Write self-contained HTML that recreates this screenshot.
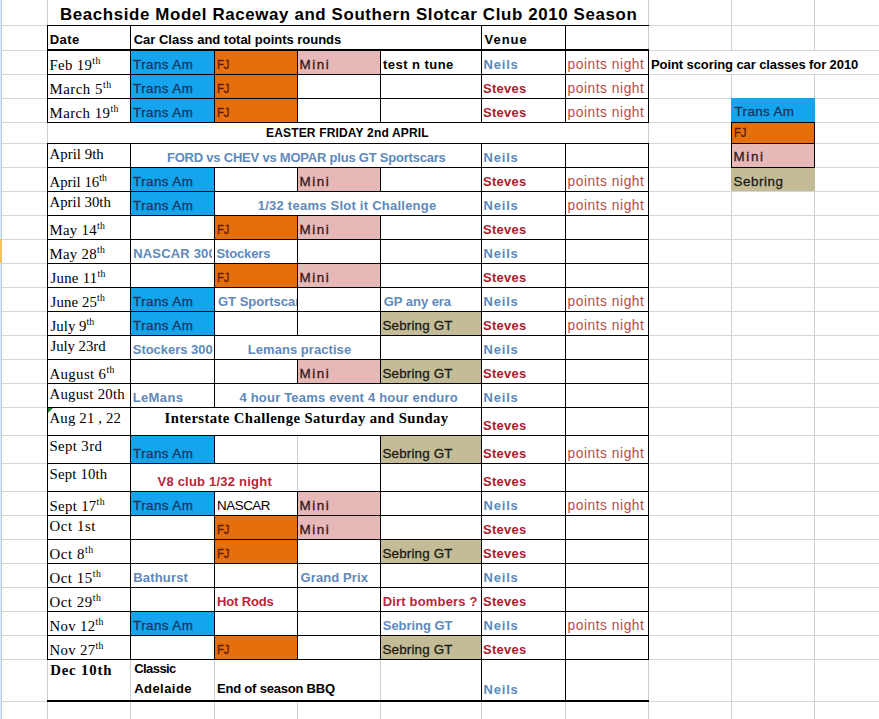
<!DOCTYPE html>
<html><head><meta charset="utf-8"><title>Beachside Model Raceway 2010 Season</title>
<style>
html,body{margin:0;padding:0;background:#fff;}
body{width:879px;height:719px;position:relative;overflow:hidden;font-family:"Liberation Sans",sans-serif;}
.b{position:absolute;}
.t{position:absolute;white-space:nowrap;}
.s{font-size:9.8px;position:relative;top:-5.6px;}
</style></head><body>
<div class="b" style="left:2px;top:25px;width:877px;height:1px;background:#d6d6d9;"></div>
<div class="b" style="left:2px;top:50px;width:877px;height:1px;background:#d6d6d9;"></div>
<div class="b" style="left:2px;top:74px;width:877px;height:1px;background:#d6d6d9;"></div>
<div class="b" style="left:2px;top:98px;width:877px;height:1px;background:#d6d6d9;"></div>
<div class="b" style="left:2px;top:122px;width:877px;height:1px;background:#d6d6d9;"></div>
<div class="b" style="left:2px;top:143px;width:877px;height:1px;background:#d6d6d9;"></div>
<div class="b" style="left:2px;top:167px;width:877px;height:1px;background:#d6d6d9;"></div>
<div class="b" style="left:2px;top:191px;width:877px;height:1px;background:#d6d6d9;"></div>
<div class="b" style="left:2px;top:215px;width:877px;height:1px;background:#d6d6d9;"></div>
<div class="b" style="left:2px;top:239px;width:877px;height:1px;background:#d6d6d9;"></div>
<div class="b" style="left:2px;top:263px;width:877px;height:1px;background:#d6d6d9;"></div>
<div class="b" style="left:2px;top:287px;width:877px;height:1px;background:#d6d6d9;"></div>
<div class="b" style="left:2px;top:311px;width:877px;height:1px;background:#d6d6d9;"></div>
<div class="b" style="left:2px;top:335px;width:877px;height:1px;background:#d6d6d9;"></div>
<div class="b" style="left:2px;top:359px;width:877px;height:1px;background:#d6d6d9;"></div>
<div class="b" style="left:2px;top:383px;width:877px;height:1px;background:#d6d6d9;"></div>
<div class="b" style="left:2px;top:407px;width:877px;height:1px;background:#d6d6d9;"></div>
<div class="b" style="left:2px;top:435px;width:877px;height:1px;background:#d6d6d9;"></div>
<div class="b" style="left:2px;top:463px;width:877px;height:1px;background:#d6d6d9;"></div>
<div class="b" style="left:2px;top:491px;width:877px;height:1px;background:#d6d6d9;"></div>
<div class="b" style="left:2px;top:515px;width:877px;height:1px;background:#d6d6d9;"></div>
<div class="b" style="left:2px;top:539px;width:877px;height:1px;background:#d6d6d9;"></div>
<div class="b" style="left:2px;top:563px;width:877px;height:1px;background:#d6d6d9;"></div>
<div class="b" style="left:2px;top:587px;width:877px;height:1px;background:#d6d6d9;"></div>
<div class="b" style="left:2px;top:611px;width:877px;height:1px;background:#d6d6d9;"></div>
<div class="b" style="left:2px;top:635px;width:877px;height:1px;background:#d6d6d9;"></div>
<div class="b" style="left:2px;top:659px;width:877px;height:1px;background:#d6d6d9;"></div>
<div class="b" style="left:2px;top:701px;width:877px;height:1px;background:#d6d6d9;"></div>
<div class="b" style="left:47px;top:0px;width:1px;height:719px;background:#cfcfd3;"></div>
<div class="b" style="left:130px;top:0px;width:1px;height:719px;background:#cfcfd3;"></div>
<div class="b" style="left:214px;top:0px;width:1px;height:719px;background:#cfcfd3;"></div>
<div class="b" style="left:297px;top:0px;width:1px;height:719px;background:#cfcfd3;"></div>
<div class="b" style="left:380px;top:0px;width:1px;height:719px;background:#cfcfd3;"></div>
<div class="b" style="left:481px;top:0px;width:1px;height:719px;background:#cfcfd3;"></div>
<div class="b" style="left:565px;top:0px;width:1px;height:719px;background:#cfcfd3;"></div>
<div class="b" style="left:648px;top:0px;width:1px;height:719px;background:#cfcfd3;"></div>
<div class="b" style="left:731px;top:0px;width:1px;height:719px;background:#cfcfd3;"></div>
<div class="b" style="left:814px;top:0px;width:1px;height:719px;background:#cfcfd3;"></div>
<div class="b" style="left:0px;top:0px;width:1px;height:719px;background:#dfeaf5;"></div>
<div class="b" style="left:1px;top:0px;width:1px;height:719px;background:#b4cde6;"></div>
<div class="b" style="left:0px;top:239px;width:2px;height:24px;background:#f2c25f;"></div>
<div class="b" style="left:48px;top:0px;width:600px;height:25px;background:#fff;"></div>
<div class="b" style="left:131px;top:26px;width:350px;height:23px;background:#fff;"></div>
<div class="b" style="left:649px;top:51px;width:230px;height:23px;background:#fff;"></div>
<div class="b" style="left:131px;top:144px;width:350px;height:23px;background:#fff;"></div>
<div class="b" style="left:215px;top:192px;width:266px;height:23px;background:#fff;"></div>
<div class="b" style="left:215px;top:336px;width:165px;height:23px;background:#fff;"></div>
<div class="b" style="left:215px;top:384px;width:266px;height:23px;background:#fff;"></div>
<div class="b" style="left:131px;top:408px;width:350px;height:27px;background:#fff;"></div>
<div class="b" style="left:131px;top:464px;width:166px;height:27px;background:#fff;"></div>
<div class="b" style="left:48px;top:123px;width:600px;height:20px;background:#fff;"></div>
<div class="b" style="left:297px;top:660px;width:1px;height:40px;background:#fff;"></div>
<div class="b" style="left:131px;top:51px;width:83px;height:23px;background:#15a5ee;"></div>
<div class="b" style="left:215px;top:51px;width:82px;height:23px;background:#e66f0d;"></div>
<div class="b" style="left:298px;top:51px;width:82px;height:23px;background:#e6b8b7;"></div>
<div class="b" style="left:131px;top:75px;width:83px;height:23px;background:#15a5ee;"></div>
<div class="b" style="left:215px;top:75px;width:82px;height:23px;background:#e66f0d;"></div>
<div class="b" style="left:131px;top:99px;width:83px;height:23px;background:#15a5ee;"></div>
<div class="b" style="left:215px;top:99px;width:82px;height:23px;background:#e66f0d;"></div>
<div class="b" style="left:131px;top:168px;width:83px;height:23px;background:#15a5ee;"></div>
<div class="b" style="left:298px;top:168px;width:82px;height:23px;background:#e6b8b7;"></div>
<div class="b" style="left:131px;top:192px;width:83px;height:23px;background:#15a5ee;"></div>
<div class="b" style="left:215px;top:216px;width:82px;height:23px;background:#e66f0d;"></div>
<div class="b" style="left:298px;top:216px;width:82px;height:23px;background:#e6b8b7;"></div>
<div class="b" style="left:215px;top:264px;width:82px;height:23px;background:#e66f0d;"></div>
<div class="b" style="left:298px;top:264px;width:82px;height:23px;background:#e6b8b7;"></div>
<div class="b" style="left:131px;top:288px;width:83px;height:23px;background:#15a5ee;"></div>
<div class="b" style="left:131px;top:312px;width:83px;height:23px;background:#15a5ee;"></div>
<div class="b" style="left:381px;top:312px;width:100px;height:23px;background:#c4bc96;"></div>
<div class="b" style="left:298px;top:360px;width:82px;height:23px;background:#e6b8b7;"></div>
<div class="b" style="left:381px;top:360px;width:100px;height:23px;background:#c4bc96;"></div>
<div class="b" style="left:131px;top:436px;width:83px;height:27px;background:#15a5ee;"></div>
<div class="b" style="left:381px;top:436px;width:100px;height:27px;background:#c4bc96;"></div>
<div class="b" style="left:131px;top:492px;width:83px;height:23px;background:#15a5ee;"></div>
<div class="b" style="left:298px;top:492px;width:82px;height:23px;background:#e6b8b7;"></div>
<div class="b" style="left:215px;top:516px;width:82px;height:23px;background:#e66f0d;"></div>
<div class="b" style="left:298px;top:516px;width:82px;height:23px;background:#e6b8b7;"></div>
<div class="b" style="left:215px;top:540px;width:82px;height:23px;background:#e66f0d;"></div>
<div class="b" style="left:381px;top:540px;width:100px;height:23px;background:#c4bc96;"></div>
<div class="b" style="left:131px;top:612px;width:83px;height:23px;background:#15a5ee;"></div>
<div class="b" style="left:215px;top:636px;width:82px;height:23px;background:#e66f0d;"></div>
<div class="b" style="left:381px;top:636px;width:100px;height:23px;background:#c4bc96;"></div>
<div class="b" style="left:731px;top:98px;width:84px;height:24px;background:#15a5ee;"></div>
<div class="b" style="left:732px;top:123px;width:82px;height:20px;background:#e66f0d;"></div>
<div class="b" style="left:732px;top:144px;width:82px;height:23px;background:#e6b8b7;"></div>
<div class="b" style="left:731px;top:168px;width:84px;height:23px;background:#c4bc96;"></div>
<div class="b" style="left:47px;top:25px;width:602px;height:1px;background:#000;"></div>
<div class="b" style="left:47px;top:25px;width:1px;height:25px;background:#000;"></div>
<div class="b" style="left:130px;top:25px;width:1px;height:25px;background:#000;"></div>
<div class="b" style="left:481px;top:25px;width:1px;height:25px;background:#000;"></div>
<div class="b" style="left:565px;top:25px;width:1px;height:25px;background:#000;"></div>
<div class="b" style="left:47px;top:49px;width:602px;height:2px;background:#000;"></div>
<div class="b" style="left:47px;top:74px;width:602px;height:1px;background:#000;"></div>
<div class="b" style="left:47px;top:98px;width:602px;height:1px;background:#000;"></div>
<div class="b" style="left:47px;top:122px;width:602px;height:1px;background:#000;"></div>
<div class="b" style="left:47px;top:143px;width:602px;height:1px;background:#000;"></div>
<div class="b" style="left:47px;top:167px;width:602px;height:1px;background:#000;"></div>
<div class="b" style="left:47px;top:191px;width:602px;height:1px;background:#000;"></div>
<div class="b" style="left:47px;top:215px;width:602px;height:1px;background:#000;"></div>
<div class="b" style="left:47px;top:239px;width:602px;height:1px;background:#000;"></div>
<div class="b" style="left:47px;top:263px;width:602px;height:1px;background:#000;"></div>
<div class="b" style="left:47px;top:287px;width:602px;height:1px;background:#000;"></div>
<div class="b" style="left:47px;top:311px;width:602px;height:1px;background:#000;"></div>
<div class="b" style="left:47px;top:335px;width:602px;height:1px;background:#000;"></div>
<div class="b" style="left:47px;top:359px;width:602px;height:1px;background:#000;"></div>
<div class="b" style="left:47px;top:383px;width:602px;height:1px;background:#000;"></div>
<div class="b" style="left:47px;top:407px;width:602px;height:1px;background:#000;"></div>
<div class="b" style="left:47px;top:435px;width:602px;height:1px;background:#000;"></div>
<div class="b" style="left:47px;top:463px;width:602px;height:1px;background:#000;"></div>
<div class="b" style="left:47px;top:491px;width:602px;height:1px;background:#000;"></div>
<div class="b" style="left:47px;top:515px;width:602px;height:1px;background:#000;"></div>
<div class="b" style="left:47px;top:539px;width:602px;height:1px;background:#000;"></div>
<div class="b" style="left:47px;top:563px;width:602px;height:1px;background:#000;"></div>
<div class="b" style="left:47px;top:587px;width:602px;height:1px;background:#000;"></div>
<div class="b" style="left:47px;top:611px;width:602px;height:1px;background:#000;"></div>
<div class="b" style="left:47px;top:635px;width:602px;height:1px;background:#000;"></div>
<div class="b" style="left:47px;top:659px;width:602px;height:1px;background:#000;"></div>
<div class="b" style="left:47px;top:50px;width:1px;height:25px;background:#000;"></div>
<div class="b" style="left:130px;top:50px;width:1px;height:25px;background:#000;"></div>
<div class="b" style="left:214px;top:50px;width:1px;height:25px;background:#000;"></div>
<div class="b" style="left:297px;top:50px;width:1px;height:25px;background:#000;"></div>
<div class="b" style="left:380px;top:50px;width:1px;height:25px;background:#000;"></div>
<div class="b" style="left:481px;top:50px;width:1px;height:25px;background:#000;"></div>
<div class="b" style="left:565px;top:50px;width:1px;height:25px;background:#000;"></div>
<div class="b" style="left:648px;top:50px;width:1px;height:25px;background:#000;"></div>
<div class="b" style="left:47px;top:74px;width:1px;height:25px;background:#000;"></div>
<div class="b" style="left:130px;top:74px;width:1px;height:25px;background:#000;"></div>
<div class="b" style="left:214px;top:74px;width:1px;height:25px;background:#000;"></div>
<div class="b" style="left:297px;top:74px;width:1px;height:25px;background:#000;"></div>
<div class="b" style="left:380px;top:74px;width:1px;height:25px;background:#000;"></div>
<div class="b" style="left:481px;top:74px;width:1px;height:25px;background:#000;"></div>
<div class="b" style="left:565px;top:74px;width:1px;height:25px;background:#000;"></div>
<div class="b" style="left:648px;top:74px;width:1px;height:25px;background:#000;"></div>
<div class="b" style="left:47px;top:98px;width:1px;height:25px;background:#000;"></div>
<div class="b" style="left:130px;top:98px;width:1px;height:25px;background:#000;"></div>
<div class="b" style="left:214px;top:98px;width:1px;height:25px;background:#000;"></div>
<div class="b" style="left:297px;top:98px;width:1px;height:25px;background:#000;"></div>
<div class="b" style="left:380px;top:98px;width:1px;height:25px;background:#000;"></div>
<div class="b" style="left:481px;top:98px;width:1px;height:25px;background:#000;"></div>
<div class="b" style="left:565px;top:98px;width:1px;height:25px;background:#000;"></div>
<div class="b" style="left:648px;top:98px;width:1px;height:25px;background:#000;"></div>
<div class="b" style="left:47px;top:143px;width:1px;height:25px;background:#000;"></div>
<div class="b" style="left:130px;top:143px;width:1px;height:25px;background:#000;"></div>
<div class="b" style="left:481px;top:143px;width:1px;height:25px;background:#000;"></div>
<div class="b" style="left:565px;top:143px;width:1px;height:25px;background:#000;"></div>
<div class="b" style="left:648px;top:143px;width:1px;height:25px;background:#000;"></div>
<div class="b" style="left:47px;top:167px;width:1px;height:25px;background:#000;"></div>
<div class="b" style="left:130px;top:167px;width:1px;height:25px;background:#000;"></div>
<div class="b" style="left:214px;top:167px;width:1px;height:25px;background:#000;"></div>
<div class="b" style="left:297px;top:167px;width:1px;height:25px;background:#000;"></div>
<div class="b" style="left:380px;top:167px;width:1px;height:25px;background:#000;"></div>
<div class="b" style="left:481px;top:167px;width:1px;height:25px;background:#000;"></div>
<div class="b" style="left:565px;top:167px;width:1px;height:25px;background:#000;"></div>
<div class="b" style="left:648px;top:167px;width:1px;height:25px;background:#000;"></div>
<div class="b" style="left:47px;top:191px;width:1px;height:25px;background:#000;"></div>
<div class="b" style="left:130px;top:191px;width:1px;height:25px;background:#000;"></div>
<div class="b" style="left:214px;top:191px;width:1px;height:25px;background:#000;"></div>
<div class="b" style="left:481px;top:191px;width:1px;height:25px;background:#000;"></div>
<div class="b" style="left:565px;top:191px;width:1px;height:25px;background:#000;"></div>
<div class="b" style="left:648px;top:191px;width:1px;height:25px;background:#000;"></div>
<div class="b" style="left:47px;top:215px;width:1px;height:25px;background:#000;"></div>
<div class="b" style="left:130px;top:215px;width:1px;height:25px;background:#000;"></div>
<div class="b" style="left:214px;top:215px;width:1px;height:25px;background:#000;"></div>
<div class="b" style="left:297px;top:215px;width:1px;height:25px;background:#000;"></div>
<div class="b" style="left:380px;top:215px;width:1px;height:25px;background:#000;"></div>
<div class="b" style="left:481px;top:215px;width:1px;height:25px;background:#000;"></div>
<div class="b" style="left:565px;top:215px;width:1px;height:25px;background:#000;"></div>
<div class="b" style="left:648px;top:215px;width:1px;height:25px;background:#000;"></div>
<div class="b" style="left:47px;top:239px;width:1px;height:25px;background:#000;"></div>
<div class="b" style="left:130px;top:239px;width:1px;height:25px;background:#000;"></div>
<div class="b" style="left:214px;top:239px;width:1px;height:25px;background:#000;"></div>
<div class="b" style="left:297px;top:239px;width:1px;height:25px;background:#000;"></div>
<div class="b" style="left:380px;top:239px;width:1px;height:25px;background:#000;"></div>
<div class="b" style="left:481px;top:239px;width:1px;height:25px;background:#000;"></div>
<div class="b" style="left:565px;top:239px;width:1px;height:25px;background:#000;"></div>
<div class="b" style="left:648px;top:239px;width:1px;height:25px;background:#000;"></div>
<div class="b" style="left:47px;top:263px;width:1px;height:25px;background:#000;"></div>
<div class="b" style="left:130px;top:263px;width:1px;height:25px;background:#000;"></div>
<div class="b" style="left:214px;top:263px;width:1px;height:25px;background:#000;"></div>
<div class="b" style="left:297px;top:263px;width:1px;height:25px;background:#000;"></div>
<div class="b" style="left:380px;top:263px;width:1px;height:25px;background:#000;"></div>
<div class="b" style="left:481px;top:263px;width:1px;height:25px;background:#000;"></div>
<div class="b" style="left:565px;top:263px;width:1px;height:25px;background:#000;"></div>
<div class="b" style="left:648px;top:263px;width:1px;height:25px;background:#000;"></div>
<div class="b" style="left:47px;top:287px;width:1px;height:25px;background:#000;"></div>
<div class="b" style="left:130px;top:287px;width:1px;height:25px;background:#000;"></div>
<div class="b" style="left:214px;top:287px;width:1px;height:25px;background:#000;"></div>
<div class="b" style="left:297px;top:287px;width:1px;height:25px;background:#000;"></div>
<div class="b" style="left:380px;top:287px;width:1px;height:25px;background:#000;"></div>
<div class="b" style="left:481px;top:287px;width:1px;height:25px;background:#000;"></div>
<div class="b" style="left:565px;top:287px;width:1px;height:25px;background:#000;"></div>
<div class="b" style="left:648px;top:287px;width:1px;height:25px;background:#000;"></div>
<div class="b" style="left:47px;top:311px;width:1px;height:25px;background:#000;"></div>
<div class="b" style="left:130px;top:311px;width:1px;height:25px;background:#000;"></div>
<div class="b" style="left:214px;top:311px;width:1px;height:25px;background:#000;"></div>
<div class="b" style="left:297px;top:311px;width:1px;height:25px;background:#000;"></div>
<div class="b" style="left:380px;top:311px;width:1px;height:25px;background:#000;"></div>
<div class="b" style="left:481px;top:311px;width:1px;height:25px;background:#000;"></div>
<div class="b" style="left:565px;top:311px;width:1px;height:25px;background:#000;"></div>
<div class="b" style="left:648px;top:311px;width:1px;height:25px;background:#000;"></div>
<div class="b" style="left:47px;top:335px;width:1px;height:25px;background:#000;"></div>
<div class="b" style="left:130px;top:335px;width:1px;height:25px;background:#000;"></div>
<div class="b" style="left:214px;top:335px;width:1px;height:25px;background:#000;"></div>
<div class="b" style="left:380px;top:335px;width:1px;height:25px;background:#000;"></div>
<div class="b" style="left:481px;top:335px;width:1px;height:25px;background:#000;"></div>
<div class="b" style="left:565px;top:335px;width:1px;height:25px;background:#000;"></div>
<div class="b" style="left:648px;top:335px;width:1px;height:25px;background:#000;"></div>
<div class="b" style="left:47px;top:359px;width:1px;height:25px;background:#000;"></div>
<div class="b" style="left:130px;top:359px;width:1px;height:25px;background:#000;"></div>
<div class="b" style="left:214px;top:359px;width:1px;height:25px;background:#000;"></div>
<div class="b" style="left:297px;top:359px;width:1px;height:25px;background:#000;"></div>
<div class="b" style="left:380px;top:359px;width:1px;height:25px;background:#000;"></div>
<div class="b" style="left:481px;top:359px;width:1px;height:25px;background:#000;"></div>
<div class="b" style="left:565px;top:359px;width:1px;height:25px;background:#000;"></div>
<div class="b" style="left:648px;top:359px;width:1px;height:25px;background:#000;"></div>
<div class="b" style="left:47px;top:383px;width:1px;height:25px;background:#000;"></div>
<div class="b" style="left:130px;top:383px;width:1px;height:25px;background:#000;"></div>
<div class="b" style="left:214px;top:383px;width:1px;height:25px;background:#000;"></div>
<div class="b" style="left:481px;top:383px;width:1px;height:25px;background:#000;"></div>
<div class="b" style="left:565px;top:383px;width:1px;height:25px;background:#000;"></div>
<div class="b" style="left:648px;top:383px;width:1px;height:25px;background:#000;"></div>
<div class="b" style="left:47px;top:407px;width:1px;height:29px;background:#000;"></div>
<div class="b" style="left:130px;top:407px;width:1px;height:29px;background:#000;"></div>
<div class="b" style="left:481px;top:407px;width:1px;height:29px;background:#000;"></div>
<div class="b" style="left:565px;top:407px;width:1px;height:29px;background:#000;"></div>
<div class="b" style="left:648px;top:407px;width:1px;height:29px;background:#000;"></div>
<div class="b" style="left:47px;top:435px;width:1px;height:29px;background:#000;"></div>
<div class="b" style="left:130px;top:435px;width:1px;height:29px;background:#000;"></div>
<div class="b" style="left:214px;top:435px;width:1px;height:29px;background:#000;"></div>
<div class="b" style="left:380px;top:435px;width:1px;height:29px;background:#000;"></div>
<div class="b" style="left:481px;top:435px;width:1px;height:29px;background:#000;"></div>
<div class="b" style="left:565px;top:435px;width:1px;height:29px;background:#000;"></div>
<div class="b" style="left:648px;top:435px;width:1px;height:29px;background:#000;"></div>
<div class="b" style="left:47px;top:463px;width:1px;height:29px;background:#000;"></div>
<div class="b" style="left:130px;top:463px;width:1px;height:29px;background:#000;"></div>
<div class="b" style="left:380px;top:463px;width:1px;height:29px;background:#000;"></div>
<div class="b" style="left:481px;top:463px;width:1px;height:29px;background:#000;"></div>
<div class="b" style="left:565px;top:463px;width:1px;height:29px;background:#000;"></div>
<div class="b" style="left:648px;top:463px;width:1px;height:29px;background:#000;"></div>
<div class="b" style="left:47px;top:491px;width:1px;height:25px;background:#000;"></div>
<div class="b" style="left:130px;top:491px;width:1px;height:25px;background:#000;"></div>
<div class="b" style="left:214px;top:491px;width:1px;height:25px;background:#000;"></div>
<div class="b" style="left:297px;top:491px;width:1px;height:25px;background:#000;"></div>
<div class="b" style="left:380px;top:491px;width:1px;height:25px;background:#000;"></div>
<div class="b" style="left:481px;top:491px;width:1px;height:25px;background:#000;"></div>
<div class="b" style="left:565px;top:491px;width:1px;height:25px;background:#000;"></div>
<div class="b" style="left:648px;top:491px;width:1px;height:25px;background:#000;"></div>
<div class="b" style="left:47px;top:515px;width:1px;height:25px;background:#000;"></div>
<div class="b" style="left:130px;top:515px;width:1px;height:25px;background:#000;"></div>
<div class="b" style="left:214px;top:515px;width:1px;height:25px;background:#000;"></div>
<div class="b" style="left:297px;top:515px;width:1px;height:25px;background:#000;"></div>
<div class="b" style="left:380px;top:515px;width:1px;height:25px;background:#000;"></div>
<div class="b" style="left:481px;top:515px;width:1px;height:25px;background:#000;"></div>
<div class="b" style="left:565px;top:515px;width:1px;height:25px;background:#000;"></div>
<div class="b" style="left:648px;top:515px;width:1px;height:25px;background:#000;"></div>
<div class="b" style="left:47px;top:539px;width:1px;height:25px;background:#000;"></div>
<div class="b" style="left:130px;top:539px;width:1px;height:25px;background:#000;"></div>
<div class="b" style="left:214px;top:539px;width:1px;height:25px;background:#000;"></div>
<div class="b" style="left:297px;top:539px;width:1px;height:25px;background:#000;"></div>
<div class="b" style="left:380px;top:539px;width:1px;height:25px;background:#000;"></div>
<div class="b" style="left:481px;top:539px;width:1px;height:25px;background:#000;"></div>
<div class="b" style="left:565px;top:539px;width:1px;height:25px;background:#000;"></div>
<div class="b" style="left:648px;top:539px;width:1px;height:25px;background:#000;"></div>
<div class="b" style="left:47px;top:563px;width:1px;height:25px;background:#000;"></div>
<div class="b" style="left:130px;top:563px;width:1px;height:25px;background:#000;"></div>
<div class="b" style="left:214px;top:563px;width:1px;height:25px;background:#000;"></div>
<div class="b" style="left:297px;top:563px;width:1px;height:25px;background:#000;"></div>
<div class="b" style="left:380px;top:563px;width:1px;height:25px;background:#000;"></div>
<div class="b" style="left:481px;top:563px;width:1px;height:25px;background:#000;"></div>
<div class="b" style="left:565px;top:563px;width:1px;height:25px;background:#000;"></div>
<div class="b" style="left:648px;top:563px;width:1px;height:25px;background:#000;"></div>
<div class="b" style="left:47px;top:587px;width:1px;height:25px;background:#000;"></div>
<div class="b" style="left:130px;top:587px;width:1px;height:25px;background:#000;"></div>
<div class="b" style="left:214px;top:587px;width:1px;height:25px;background:#000;"></div>
<div class="b" style="left:297px;top:587px;width:1px;height:25px;background:#000;"></div>
<div class="b" style="left:380px;top:587px;width:1px;height:25px;background:#000;"></div>
<div class="b" style="left:481px;top:587px;width:1px;height:25px;background:#000;"></div>
<div class="b" style="left:565px;top:587px;width:1px;height:25px;background:#000;"></div>
<div class="b" style="left:648px;top:587px;width:1px;height:25px;background:#000;"></div>
<div class="b" style="left:47px;top:611px;width:1px;height:25px;background:#000;"></div>
<div class="b" style="left:130px;top:611px;width:1px;height:25px;background:#000;"></div>
<div class="b" style="left:214px;top:611px;width:1px;height:25px;background:#000;"></div>
<div class="b" style="left:297px;top:611px;width:1px;height:25px;background:#000;"></div>
<div class="b" style="left:380px;top:611px;width:1px;height:25px;background:#000;"></div>
<div class="b" style="left:481px;top:611px;width:1px;height:25px;background:#000;"></div>
<div class="b" style="left:565px;top:611px;width:1px;height:25px;background:#000;"></div>
<div class="b" style="left:648px;top:611px;width:1px;height:25px;background:#000;"></div>
<div class="b" style="left:47px;top:635px;width:1px;height:25px;background:#000;"></div>
<div class="b" style="left:130px;top:635px;width:1px;height:25px;background:#000;"></div>
<div class="b" style="left:214px;top:635px;width:1px;height:25px;background:#000;"></div>
<div class="b" style="left:297px;top:635px;width:1px;height:25px;background:#000;"></div>
<div class="b" style="left:380px;top:635px;width:1px;height:25px;background:#000;"></div>
<div class="b" style="left:481px;top:635px;width:1px;height:25px;background:#000;"></div>
<div class="b" style="left:565px;top:635px;width:1px;height:25px;background:#000;"></div>
<div class="b" style="left:648px;top:635px;width:1px;height:25px;background:#000;"></div>
<div class="b" style="left:481px;top:659px;width:1px;height:42px;background:#000;"></div>
<div class="b" style="left:565px;top:659px;width:1px;height:42px;background:#000;"></div>
<div class="b" style="left:47px;top:700px;width:602px;height:2px;background:#000;"></div>
<div class="b" style="left:731px;top:122px;width:84px;height:1px;background:#000;"></div>
<div class="b" style="left:731px;top:143px;width:84px;height:1px;background:#000;"></div>
<div class="b" style="left:731px;top:167px;width:84px;height:1px;background:#000;"></div>
<div class="b" style="left:731px;top:122px;width:1px;height:46px;background:#000;"></div>
<div class="b" style="left:814px;top:122px;width:1px;height:46px;background:#000;"></div>
<div class="t" style="left:59.90px;top:3.64px;font-family:'Liberation Sans';font-size:16.9px;font-weight:bold;line-height:21px;letter-spacing:0.618px;color:#000;">Beachside Model Raceway and Southern Slotcar Club 2010 Season</div>
<div class="t" style="left:49.75px;top:31.50px;font-family:'Liberation Sans';font-size:13.0px;font-weight:bold;line-height:16px;letter-spacing:0.417px;color:#000;">Date</div>
<div class="t" style="left:133.75px;top:31.50px;font-family:'Liberation Sans';font-size:13.0px;font-weight:bold;line-height:16px;letter-spacing:-0.016px;color:#000;">Car Class and total points rounds</div>
<div class="t" style="left:484.50px;top:31.50px;font-family:'Liberation Sans';font-size:13.0px;font-weight:bold;line-height:16px;letter-spacing:1.000px;color:#000;">Venue</div>
<div class="t" style="left:651.00px;top:56.50px;font-family:'Liberation Sans';font-size:13.0px;font-weight:bold;line-height:16px;letter-spacing:-0.091px;color:#000;">Point scoring car classes for 2010</div>
<div class="t" style="left:266.00px;top:126.34px;font-family:'Liberation Sans';font-size:12.0px;font-weight:bold;line-height:15px;letter-spacing:0.170px;color:#000;">EASTER FRIDAY 2nd APRIL</div>
<div class="t" style="left:49.50px;top:56.00px;font-family:'Liberation Serif';font-size:14.8px;font-weight:normal;line-height:18px;letter-spacing:0.357px;color:#000;">Feb 19<span class="s">th</span></div>
<div class="t" style="left:133.10px;top:55.56px;font-family:'Liberation Sans';font-size:13.4px;font-weight:normal;line-height:17px;letter-spacing:0.414px;color:#17365d;-webkit-text-stroke:0.3px;">Trans Am</div>
<div class="t" style="left:217.00px;top:56.83px;font-family:'Liberation Sans';font-size:13.2px;font-weight:normal;line-height:16px;letter-spacing:-0.300px;color:#5e1a08;-webkit-text-stroke:0.3px;transform:scaleX(0.86);transform-origin:0 0;">FJ</div>
<div class="t" style="left:299.60px;top:55.56px;font-family:'Liberation Sans';font-size:13.4px;font-weight:normal;line-height:17px;letter-spacing:1.533px;color:#33191c;-webkit-text-stroke:0.3px;">Mini</div>
<div class="t" style="left:383.10px;top:56.50px;font-family:'Liberation Sans';font-size:13.0px;font-weight:bold;line-height:16px;letter-spacing:0.450px;color:#000;width:97.90px;overflow:hidden;">test n tune</div>
<div class="t" style="left:483.50px;top:56.50px;font-family:'Liberation Sans';font-size:13.0px;font-weight:bold;line-height:16px;letter-spacing:0.812px;color:#5c87b8;">Neils</div>
<div class="t" style="left:567.50px;top:55.72px;font-family:'Liberation Sans';font-size:13.8px;font-weight:normal;line-height:17px;letter-spacing:0.527px;color:#b44e4c;">points night</div>
<div class="t" style="left:49.50px;top:80.00px;font-family:'Liberation Serif';font-size:14.8px;font-weight:normal;line-height:18px;letter-spacing:0.531px;color:#000;">March 5<span class="s">th</span></div>
<div class="t" style="left:133.10px;top:79.56px;font-family:'Liberation Sans';font-size:13.4px;font-weight:normal;line-height:17px;letter-spacing:0.414px;color:#17365d;-webkit-text-stroke:0.3px;">Trans Am</div>
<div class="t" style="left:217.00px;top:80.83px;font-family:'Liberation Sans';font-size:13.2px;font-weight:normal;line-height:16px;letter-spacing:-0.300px;color:#5e1a08;-webkit-text-stroke:0.3px;transform:scaleX(0.86);transform-origin:0 0;">FJ</div>
<div class="t" style="left:483.00px;top:80.50px;font-family:'Liberation Sans';font-size:13.0px;font-weight:bold;line-height:16px;letter-spacing:0.280px;color:#a82030;">Steves</div>
<div class="t" style="left:567.50px;top:79.72px;font-family:'Liberation Sans';font-size:13.8px;font-weight:normal;line-height:17px;letter-spacing:0.527px;color:#b44e4c;">points night</div>
<div class="t" style="left:49.50px;top:104.00px;font-family:'Liberation Serif';font-size:14.8px;font-weight:normal;line-height:18px;letter-spacing:0.472px;color:#000;">March 19<span class="s">th</span></div>
<div class="t" style="left:133.10px;top:103.56px;font-family:'Liberation Sans';font-size:13.4px;font-weight:normal;line-height:17px;letter-spacing:0.414px;color:#17365d;-webkit-text-stroke:0.3px;">Trans Am</div>
<div class="t" style="left:217.00px;top:104.83px;font-family:'Liberation Sans';font-size:13.2px;font-weight:normal;line-height:16px;letter-spacing:-0.300px;color:#5e1a08;-webkit-text-stroke:0.3px;transform:scaleX(0.86);transform-origin:0 0;">FJ</div>
<div class="t" style="left:483.00px;top:104.50px;font-family:'Liberation Sans';font-size:13.0px;font-weight:bold;line-height:16px;letter-spacing:0.280px;color:#a82030;">Steves</div>
<div class="t" style="left:567.50px;top:103.72px;font-family:'Liberation Sans';font-size:13.8px;font-weight:normal;line-height:17px;letter-spacing:0.527px;color:#b44e4c;">points night</div>
<div class="t" style="left:49.50px;top:145.10px;font-family:'Liberation Serif';font-size:14.8px;font-weight:normal;line-height:18px;letter-spacing:0.050px;color:#000;">April 9th</div>
<div class="t" style="left:167.00px;top:149.50px;font-family:'Liberation Sans';font-size:13.0px;font-weight:bold;line-height:16px;letter-spacing:-0.218px;color:#5e89bb;">FORD vs CHEV vs MOPAR plus GT Sportscars</div>
<div class="t" style="left:483.50px;top:149.50px;font-family:'Liberation Sans';font-size:13.0px;font-weight:bold;line-height:16px;letter-spacing:0.812px;color:#5c87b8;">Neils</div>
<div class="t" style="left:49.50px;top:173.00px;font-family:'Liberation Serif';font-size:14.8px;font-weight:normal;line-height:18px;letter-spacing:0.000px;color:#000;">April 16<span class="s">th</span></div>
<div class="t" style="left:133.10px;top:172.56px;font-family:'Liberation Sans';font-size:13.4px;font-weight:normal;line-height:17px;letter-spacing:0.414px;color:#17365d;-webkit-text-stroke:0.3px;">Trans Am</div>
<div class="t" style="left:299.60px;top:172.56px;font-family:'Liberation Sans';font-size:13.4px;font-weight:normal;line-height:17px;letter-spacing:1.533px;color:#33191c;-webkit-text-stroke:0.3px;">Mini</div>
<div class="t" style="left:483.00px;top:173.50px;font-family:'Liberation Sans';font-size:13.0px;font-weight:bold;line-height:16px;letter-spacing:0.280px;color:#a82030;">Steves</div>
<div class="t" style="left:567.50px;top:172.72px;font-family:'Liberation Sans';font-size:13.8px;font-weight:normal;line-height:17px;letter-spacing:0.527px;color:#b44e4c;">points night</div>
<div class="t" style="left:49.50px;top:193.10px;font-family:'Liberation Serif';font-size:14.8px;font-weight:normal;line-height:18px;letter-spacing:0.011px;color:#000;">April 30th</div>
<div class="t" style="left:133.10px;top:196.56px;font-family:'Liberation Sans';font-size:13.4px;font-weight:normal;line-height:17px;letter-spacing:0.414px;color:#17365d;-webkit-text-stroke:0.3px;">Trans Am</div>
<div class="t" style="left:257.75px;top:197.50px;font-family:'Liberation Sans';font-size:13.0px;font-weight:bold;line-height:16px;letter-spacing:0.241px;color:#5e89bb;">1/32 teams Slot it Challenge</div>
<div class="t" style="left:483.50px;top:197.50px;font-family:'Liberation Sans';font-size:13.0px;font-weight:bold;line-height:16px;letter-spacing:0.812px;color:#5c87b8;">Neils</div>
<div class="t" style="left:567.50px;top:196.72px;font-family:'Liberation Sans';font-size:13.8px;font-weight:normal;line-height:17px;letter-spacing:0.527px;color:#b44e4c;">points night</div>
<div class="t" style="left:49.50px;top:221.00px;font-family:'Liberation Serif';font-size:14.8px;font-weight:normal;line-height:18px;letter-spacing:0.300px;color:#000;">May 14<span class="s">th</span></div>
<div class="t" style="left:217.00px;top:221.83px;font-family:'Liberation Sans';font-size:13.2px;font-weight:normal;line-height:16px;letter-spacing:-0.300px;color:#5e1a08;-webkit-text-stroke:0.3px;transform:scaleX(0.86);transform-origin:0 0;">FJ</div>
<div class="t" style="left:299.60px;top:220.56px;font-family:'Liberation Sans';font-size:13.4px;font-weight:normal;line-height:17px;letter-spacing:1.533px;color:#33191c;-webkit-text-stroke:0.3px;">Mini</div>
<div class="t" style="left:483.00px;top:221.50px;font-family:'Liberation Sans';font-size:13.0px;font-weight:bold;line-height:16px;letter-spacing:0.280px;color:#a82030;">Steves</div>
<div class="t" style="left:49.50px;top:245.00px;font-family:'Liberation Serif';font-size:14.8px;font-weight:normal;line-height:18px;letter-spacing:0.300px;color:#000;">May 28<span class="s">th</span></div>
<div class="t" style="left:133.25px;top:245.50px;font-family:'Liberation Sans';font-size:13.0px;font-weight:bold;line-height:16px;letter-spacing:0.172px;color:#5e89bb;width:78.75px;overflow:hidden;">NASCAR 300</div>
<div class="t" style="left:216.50px;top:245.50px;font-family:'Liberation Sans';font-size:13.0px;font-weight:bold;line-height:16px;letter-spacing:-0.143px;color:#5e89bb;width:80.50px;overflow:hidden;">Stockers</div>
<div class="t" style="left:483.50px;top:245.50px;font-family:'Liberation Sans';font-size:13.0px;font-weight:bold;line-height:16px;letter-spacing:0.812px;color:#5c87b8;">Neils</div>
<div class="t" style="left:50.50px;top:269.00px;font-family:'Liberation Serif';font-size:14.8px;font-weight:normal;line-height:18px;letter-spacing:0.262px;color:#000;">June 11<span class="s">th</span></div>
<div class="t" style="left:217.00px;top:269.83px;font-family:'Liberation Sans';font-size:13.2px;font-weight:normal;line-height:16px;letter-spacing:-0.300px;color:#5e1a08;-webkit-text-stroke:0.3px;transform:scaleX(0.86);transform-origin:0 0;">FJ</div>
<div class="t" style="left:299.60px;top:268.56px;font-family:'Liberation Sans';font-size:13.4px;font-weight:normal;line-height:17px;letter-spacing:1.533px;color:#33191c;-webkit-text-stroke:0.3px;">Mini</div>
<div class="t" style="left:483.00px;top:269.50px;font-family:'Liberation Sans';font-size:13.0px;font-weight:bold;line-height:16px;letter-spacing:0.280px;color:#a82030;">Steves</div>
<div class="t" style="left:50.50px;top:293.00px;font-family:'Liberation Serif';font-size:14.8px;font-weight:normal;line-height:18px;letter-spacing:0.137px;color:#000;">June 25<span class="s">th</span></div>
<div class="t" style="left:133.10px;top:292.56px;font-family:'Liberation Sans';font-size:13.4px;font-weight:normal;line-height:17px;letter-spacing:0.414px;color:#17365d;-webkit-text-stroke:0.3px;">Trans Am</div>
<div class="t" style="left:218.00px;top:293.50px;font-family:'Liberation Sans';font-size:13.0px;font-weight:bold;line-height:16px;letter-spacing:0.000px;color:#5e89bb;width:79.00px;overflow:hidden;">GT Sportscars</div>
<div class="t" style="left:383.75px;top:293.50px;font-family:'Liberation Sans';font-size:13.0px;font-weight:bold;line-height:16px;letter-spacing:-0.039px;color:#5e89bb;width:97.25px;overflow:hidden;">GP any era</div>
<div class="t" style="left:483.50px;top:293.50px;font-family:'Liberation Sans';font-size:13.0px;font-weight:bold;line-height:16px;letter-spacing:0.812px;color:#5c87b8;">Neils</div>
<div class="t" style="left:567.50px;top:292.72px;font-family:'Liberation Sans';font-size:13.8px;font-weight:normal;line-height:17px;letter-spacing:0.527px;color:#b44e4c;">points night</div>
<div class="t" style="left:50.50px;top:317.00px;font-family:'Liberation Serif';font-size:14.8px;font-weight:normal;line-height:18px;letter-spacing:0.043px;color:#000;">July 9<span class="s">th</span></div>
<div class="t" style="left:133.10px;top:316.56px;font-family:'Liberation Sans';font-size:13.4px;font-weight:normal;line-height:17px;letter-spacing:0.414px;color:#17365d;-webkit-text-stroke:0.3px;">Trans Am</div>
<div class="t" style="left:382.50px;top:316.56px;font-family:'Liberation Sans';font-size:13.4px;font-weight:normal;line-height:17px;letter-spacing:0.167px;color:#1c1a12;-webkit-text-stroke:0.3px;">Sebring GT</div>
<div class="t" style="left:483.00px;top:317.50px;font-family:'Liberation Sans';font-size:13.0px;font-weight:bold;line-height:16px;letter-spacing:0.280px;color:#a82030;">Steves</div>
<div class="t" style="left:567.50px;top:316.72px;font-family:'Liberation Sans';font-size:13.8px;font-weight:normal;line-height:17px;letter-spacing:0.527px;color:#b44e4c;">points night</div>
<div class="t" style="left:50.50px;top:337.11px;font-family:'Liberation Serif';font-size:14.8px;font-weight:normal;line-height:18px;letter-spacing:-0.050px;color:#000;">July 23rd</div>
<div class="t" style="left:132.75px;top:341.50px;font-family:'Liberation Sans';font-size:13.0px;font-weight:bold;line-height:16px;letter-spacing:-0.023px;color:#5e89bb;width:81.25px;overflow:hidden;">Stockers 300</div>
<div class="t" style="left:247.75px;top:341.50px;font-family:'Liberation Sans';font-size:13.0px;font-weight:bold;line-height:16px;letter-spacing:0.054px;color:#5e89bb;">Lemans practise</div>
<div class="t" style="left:483.50px;top:341.50px;font-family:'Liberation Sans';font-size:13.0px;font-weight:bold;line-height:16px;letter-spacing:0.812px;color:#5c87b8;">Neils</div>
<div class="t" style="left:49.50px;top:365.00px;font-family:'Liberation Serif';font-size:14.8px;font-weight:normal;line-height:18px;letter-spacing:0.378px;color:#000;">August 6<span class="s">th</span></div>
<div class="t" style="left:299.60px;top:364.56px;font-family:'Liberation Sans';font-size:13.4px;font-weight:normal;line-height:17px;letter-spacing:1.533px;color:#33191c;-webkit-text-stroke:0.3px;">Mini</div>
<div class="t" style="left:382.50px;top:364.56px;font-family:'Liberation Sans';font-size:13.4px;font-weight:normal;line-height:17px;letter-spacing:0.167px;color:#1c1a12;-webkit-text-stroke:0.3px;">Sebring GT</div>
<div class="t" style="left:483.00px;top:365.50px;font-family:'Liberation Sans';font-size:13.0px;font-weight:bold;line-height:16px;letter-spacing:0.280px;color:#a82030;">Steves</div>
<div class="t" style="left:49.50px;top:385.11px;font-family:'Liberation Serif';font-size:14.8px;font-weight:normal;line-height:18px;letter-spacing:0.240px;color:#000;">August 20th</div>
<div class="t" style="left:132.75px;top:389.50px;font-family:'Liberation Sans';font-size:13.0px;font-weight:bold;line-height:16px;letter-spacing:0.350px;color:#5e89bb;width:81.25px;overflow:hidden;">LeMans</div>
<div class="t" style="left:239.50px;top:389.50px;font-family:'Liberation Sans';font-size:13.0px;font-weight:bold;line-height:16px;letter-spacing:0.194px;color:#5e89bb;">4 hour Teams event 4 hour enduro</div>
<div class="t" style="left:483.50px;top:389.50px;font-family:'Liberation Sans';font-size:13.0px;font-weight:bold;line-height:16px;letter-spacing:0.812px;color:#5c87b8;">Neils</div>
<div class="t" style="left:49.50px;top:409.11px;font-family:'Liberation Serif';font-size:14.8px;font-weight:normal;line-height:18px;letter-spacing:0.160px;color:#000;">Aug 21 , 22</div>
<div class="t" style="left:164.50px;top:408.55px;font-family:'Liberation Serif';font-size:14.67px;font-weight:bold;line-height:18px;letter-spacing:0.423px;color:#000;">Interstate Challenge Saturday and Sunday</div>
<div class="t" style="left:483.00px;top:417.50px;font-family:'Liberation Sans';font-size:13.0px;font-weight:bold;line-height:16px;letter-spacing:0.280px;color:#a82030;">Steves</div>
<div class="t" style="left:49.50px;top:437.11px;font-family:'Liberation Serif';font-size:14.8px;font-weight:normal;line-height:18px;letter-spacing:0.371px;color:#000;">Sept 3rd</div>
<div class="t" style="left:133.10px;top:444.56px;font-family:'Liberation Sans';font-size:13.4px;font-weight:normal;line-height:17px;letter-spacing:0.414px;color:#17365d;-webkit-text-stroke:0.3px;">Trans Am</div>
<div class="t" style="left:382.50px;top:444.56px;font-family:'Liberation Sans';font-size:13.4px;font-weight:normal;line-height:17px;letter-spacing:0.167px;color:#1c1a12;-webkit-text-stroke:0.3px;">Sebring GT</div>
<div class="t" style="left:483.00px;top:445.50px;font-family:'Liberation Sans';font-size:13.0px;font-weight:bold;line-height:16px;letter-spacing:0.280px;color:#a82030;">Steves</div>
<div class="t" style="left:567.50px;top:444.72px;font-family:'Liberation Sans';font-size:13.8px;font-weight:normal;line-height:17px;letter-spacing:0.527px;color:#b44e4c;">points night</div>
<div class="t" style="left:49.50px;top:465.11px;font-family:'Liberation Serif';font-size:14.8px;font-weight:normal;line-height:18px;letter-spacing:0.175px;color:#000;">Sept 10th</div>
<div class="t" style="left:157.50px;top:473.50px;font-family:'Liberation Sans';font-size:13.0px;font-weight:bold;line-height:16px;letter-spacing:0.218px;color:#b82638;">V8 club 1/32 night</div>
<div class="t" style="left:483.00px;top:473.50px;font-family:'Liberation Sans';font-size:13.0px;font-weight:bold;line-height:16px;letter-spacing:0.280px;color:#a82030;">Steves</div>
<div class="t" style="left:49.50px;top:497.00px;font-family:'Liberation Serif';font-size:14.8px;font-weight:normal;line-height:18px;letter-spacing:0.325px;color:#000;">Sept 17<span class="s">th</span></div>
<div class="t" style="left:133.10px;top:496.56px;font-family:'Liberation Sans';font-size:13.4px;font-weight:normal;line-height:17px;letter-spacing:0.414px;color:#17365d;-webkit-text-stroke:0.3px;">Trans Am</div>
<div class="t" style="left:217.00px;top:496.56px;font-family:'Liberation Sans';font-size:13.4px;font-weight:normal;line-height:17px;letter-spacing:-0.460px;color:#000;width:80.00px;overflow:hidden;">NASCAR</div>
<div class="t" style="left:299.60px;top:496.56px;font-family:'Liberation Sans';font-size:13.4px;font-weight:normal;line-height:17px;letter-spacing:1.533px;color:#33191c;-webkit-text-stroke:0.3px;">Mini</div>
<div class="t" style="left:483.50px;top:497.50px;font-family:'Liberation Sans';font-size:13.0px;font-weight:bold;line-height:16px;letter-spacing:0.812px;color:#5c87b8;">Neils</div>
<div class="t" style="left:567.50px;top:496.72px;font-family:'Liberation Sans';font-size:13.8px;font-weight:normal;line-height:17px;letter-spacing:0.527px;color:#b44e4c;">points night</div>
<div class="t" style="left:49.50px;top:517.11px;font-family:'Liberation Serif';font-size:14.8px;font-weight:normal;line-height:18px;letter-spacing:0.583px;color:#000;">Oct 1st</div>
<div class="t" style="left:217.00px;top:521.83px;font-family:'Liberation Sans';font-size:13.2px;font-weight:normal;line-height:16px;letter-spacing:-0.300px;color:#5e1a08;-webkit-text-stroke:0.3px;transform:scaleX(0.86);transform-origin:0 0;">FJ</div>
<div class="t" style="left:299.60px;top:520.56px;font-family:'Liberation Sans';font-size:13.4px;font-weight:normal;line-height:17px;letter-spacing:1.533px;color:#33191c;-webkit-text-stroke:0.3px;">Mini</div>
<div class="t" style="left:483.00px;top:521.50px;font-family:'Liberation Sans';font-size:13.0px;font-weight:bold;line-height:16px;letter-spacing:0.280px;color:#a82030;">Steves</div>
<div class="t" style="left:49.50px;top:545.00px;font-family:'Liberation Serif';font-size:14.8px;font-weight:normal;line-height:18px;letter-spacing:0.600px;color:#000;">Oct 8<span class="s">th</span></div>
<div class="t" style="left:217.00px;top:545.83px;font-family:'Liberation Sans';font-size:13.2px;font-weight:normal;line-height:16px;letter-spacing:-0.300px;color:#5e1a08;-webkit-text-stroke:0.3px;transform:scaleX(0.86);transform-origin:0 0;">FJ</div>
<div class="t" style="left:382.50px;top:544.56px;font-family:'Liberation Sans';font-size:13.4px;font-weight:normal;line-height:17px;letter-spacing:0.167px;color:#1c1a12;-webkit-text-stroke:0.3px;">Sebring GT</div>
<div class="t" style="left:483.00px;top:545.50px;font-family:'Liberation Sans';font-size:13.0px;font-weight:bold;line-height:16px;letter-spacing:0.280px;color:#a82030;">Steves</div>
<div class="t" style="left:49.50px;top:569.00px;font-family:'Liberation Serif';font-size:14.8px;font-weight:normal;line-height:18px;letter-spacing:0.543px;color:#000;">Oct 15<span class="s">th</span></div>
<div class="t" style="left:133.25px;top:569.50px;font-family:'Liberation Sans';font-size:13.0px;font-weight:bold;line-height:16px;letter-spacing:0.179px;color:#5e89bb;width:80.75px;overflow:hidden;">Bathurst</div>
<div class="t" style="left:300.50px;top:569.50px;font-family:'Liberation Sans';font-size:13.0px;font-weight:bold;line-height:16px;letter-spacing:0.111px;color:#5e89bb;width:79.50px;overflow:hidden;">Grand Prix</div>
<div class="t" style="left:483.50px;top:569.50px;font-family:'Liberation Sans';font-size:13.0px;font-weight:bold;line-height:16px;letter-spacing:0.812px;color:#5c87b8;">Neils</div>
<div class="t" style="left:49.50px;top:593.00px;font-family:'Liberation Serif';font-size:14.8px;font-weight:normal;line-height:18px;letter-spacing:0.543px;color:#000;">Oct 29<span class="s">th</span></div>
<div class="t" style="left:217.00px;top:593.50px;font-family:'Liberation Sans';font-size:13.0px;font-weight:bold;line-height:16px;letter-spacing:-0.143px;color:#b82638;width:80.00px;overflow:hidden;">Hot Rods</div>
<div class="t" style="left:382.75px;top:593.50px;font-family:'Liberation Sans';font-size:13.0px;font-weight:bold;line-height:16px;letter-spacing:0.173px;color:#b82638;width:98.25px;overflow:hidden;">Dirt bombers ?</div>
<div class="t" style="left:483.00px;top:593.50px;font-family:'Liberation Sans';font-size:13.0px;font-weight:bold;line-height:16px;letter-spacing:0.280px;color:#a82030;">Steves</div>
<div class="t" style="left:49.50px;top:617.00px;font-family:'Liberation Serif';font-size:14.8px;font-weight:normal;line-height:18px;letter-spacing:0.343px;color:#000;">Nov 12<span class="s">th</span></div>
<div class="t" style="left:133.10px;top:616.56px;font-family:'Liberation Sans';font-size:13.4px;font-weight:normal;line-height:17px;letter-spacing:0.414px;color:#17365d;-webkit-text-stroke:0.3px;">Trans Am</div>
<div class="t" style="left:382.75px;top:617.50px;font-family:'Liberation Sans';font-size:13.0px;font-weight:bold;line-height:16px;letter-spacing:-0.028px;color:#5e89bb;width:98.25px;overflow:hidden;">Sebring GT</div>
<div class="t" style="left:483.50px;top:617.50px;font-family:'Liberation Sans';font-size:13.0px;font-weight:bold;line-height:16px;letter-spacing:0.812px;color:#5c87b8;">Neils</div>
<div class="t" style="left:567.50px;top:616.72px;font-family:'Liberation Sans';font-size:13.8px;font-weight:normal;line-height:17px;letter-spacing:0.527px;color:#b44e4c;">points night</div>
<div class="t" style="left:49.50px;top:641.00px;font-family:'Liberation Serif';font-size:14.8px;font-weight:normal;line-height:18px;letter-spacing:0.343px;color:#000;">Nov 27<span class="s">th</span></div>
<div class="t" style="left:217.00px;top:641.83px;font-family:'Liberation Sans';font-size:13.2px;font-weight:normal;line-height:16px;letter-spacing:-0.300px;color:#5e1a08;-webkit-text-stroke:0.3px;transform:scaleX(0.86);transform-origin:0 0;">FJ</div>
<div class="t" style="left:382.50px;top:640.56px;font-family:'Liberation Sans';font-size:13.4px;font-weight:normal;line-height:17px;letter-spacing:0.167px;color:#1c1a12;-webkit-text-stroke:0.3px;">Sebring GT</div>
<div class="t" style="left:483.00px;top:641.50px;font-family:'Liberation Sans';font-size:13.0px;font-weight:bold;line-height:16px;letter-spacing:0.280px;color:#a82030;">Steves</div>
<div class="t" style="left:50.20px;top:660.50px;font-family:'Liberation Serif';font-size:14.8px;font-weight:bold;line-height:18px;letter-spacing:0.829px;color:#000;">Dec 10th</div>
<div class="t" style="left:134.25px;top:660.50px;font-family:'Liberation Sans';font-size:13.0px;font-weight:bold;line-height:16px;letter-spacing:-0.575px;color:#000;">Classic</div>
<div class="t" style="left:134.25px;top:680.50px;font-family:'Liberation Sans';font-size:13.0px;font-weight:bold;line-height:16px;letter-spacing:0.436px;color:#000;">Adelaide</div>
<div class="t" style="left:217.00px;top:681.00px;font-family:'Liberation Sans';font-size:13.0px;font-weight:bold;line-height:16px;letter-spacing:-0.203px;color:#000;">End of season BBQ</div>
<div class="t" style="left:483.50px;top:681.50px;font-family:'Liberation Sans';font-size:13.0px;font-weight:bold;line-height:16px;letter-spacing:0.812px;color:#5c87b8;">Neils</div>
<div class="t" style="left:734.50px;top:103.06px;font-family:'Liberation Sans';font-size:13.4px;font-weight:normal;line-height:17px;letter-spacing:0.371px;color:#17365d;-webkit-text-stroke:0.3px;">Trans Am</div>
<div class="t" style="left:733.80px;top:125.33px;font-family:'Liberation Sans';font-size:13.2px;font-weight:normal;line-height:16px;letter-spacing:-0.300px;color:#5e1a08;-webkit-text-stroke:0.3px;transform:scaleX(0.86);transform-origin:0 0;">FJ</div>
<div class="t" style="left:733.50px;top:148.26px;font-family:'Liberation Sans';font-size:13.4px;font-weight:normal;line-height:17px;letter-spacing:1.667px;color:#33191c;-webkit-text-stroke:0.3px;">Mini</div>
<div class="t" style="left:733.50px;top:172.56px;font-family:'Liberation Sans';font-size:13.4px;font-weight:normal;line-height:17px;letter-spacing:0.533px;color:#1c1a12;-webkit-text-stroke:0.3px;">Sebring</div>
<div class="b" style="left:48px;top:408px;width:0;height:0;border-top:5px solid #1e7d32;border-right:5px solid transparent;"></div>
</body></html>
